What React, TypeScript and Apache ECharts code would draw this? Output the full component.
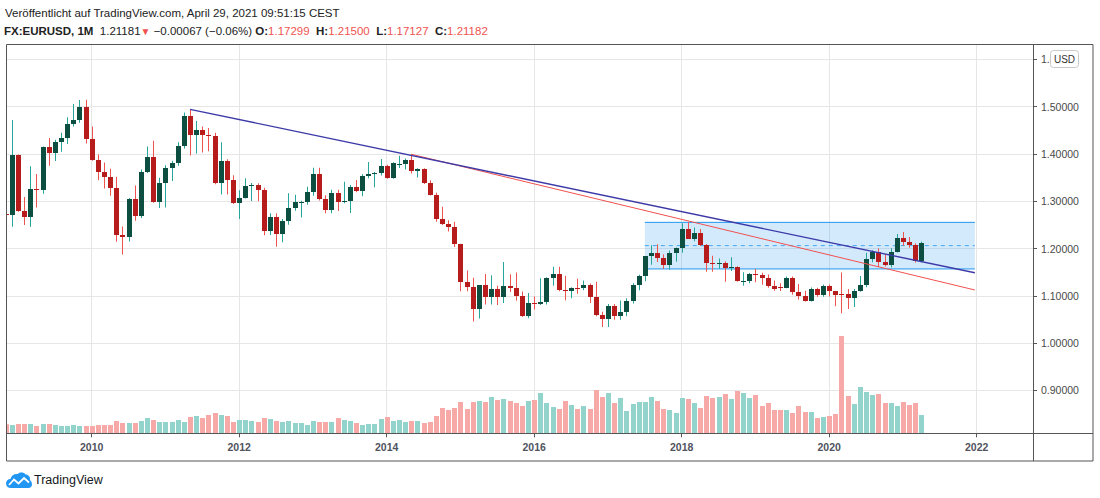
import { useEffect, useRef } from "react";
import * as echarts from "echarts";

// month index 0 = Nov 2008, one candle per month, [open, high, low, close]
const ohlc: number[][] = [
  // 2008
  [1.2737, 1.3083, 1.233, 1.272],
  [1.272, 1.472, 1.246, 1.397],
  // 2009
  [1.397, 1.399, 1.278, 1.28],
  [1.28, 1.309, 1.25, 1.266],
  [1.266, 1.374, 1.246, 1.325],
  [1.325, 1.358, 1.287, 1.323],
  [1.323, 1.416, 1.316, 1.415],
  [1.415, 1.434, 1.375, 1.403],
  [1.403, 1.43, 1.385, 1.4255],
  [1.4255, 1.445, 1.405, 1.434],
  [1.434, 1.4775, 1.421, 1.4635],
  [1.4635, 1.506, 1.458, 1.472],
  [1.472, 1.514, 1.466, 1.5],
  [1.5, 1.5145, 1.422, 1.4325],
  // 2010
  [1.4325, 1.458, 1.386, 1.3865],
  [1.3865, 1.399, 1.3445, 1.3625],
  [1.3625, 1.382, 1.327, 1.3505],
  [1.3505, 1.369, 1.3115, 1.329],
  [1.329, 1.352, 1.2145, 1.2295],
  [1.2295, 1.247, 1.1875, 1.2235],
  [1.2235, 1.307, 1.215, 1.305],
  [1.305, 1.3335, 1.259, 1.269],
  [1.269, 1.367, 1.2645, 1.3625],
  [1.3625, 1.416, 1.36, 1.393],
  [1.393, 1.428, 1.297, 1.2985],
  [1.2985, 1.35, 1.286, 1.338],
  // 2011
  [1.338, 1.376, 1.287, 1.3695],
  [1.3695, 1.386, 1.343, 1.38],
  [1.38, 1.425, 1.375, 1.4165],
  [1.4165, 1.488, 1.4115, 1.4805],
  [1.4805, 1.494, 1.397, 1.4395],
  [1.4395, 1.47, 1.401, 1.45],
  [1.45, 1.458, 1.403, 1.4395],
  [1.4395, 1.455, 1.406, 1.439],
  [1.439, 1.445, 1.336, 1.3385],
  [1.3385, 1.425, 1.3145, 1.3855],
  [1.3855, 1.389, 1.3145, 1.3445],
  [1.3445, 1.355, 1.2945, 1.296],
  // 2012
  [1.296, 1.3235, 1.2625, 1.308],
  [1.308, 1.3485, 1.306, 1.332],
  [1.332, 1.3385, 1.3005, 1.3345],
  [1.3345, 1.338, 1.3, 1.324],
  [1.324, 1.3285, 1.2285, 1.2365],
  [1.2365, 1.275, 1.229, 1.2665],
  [1.2665, 1.2745, 1.204, 1.2305],
  [1.2305, 1.2625, 1.2135, 1.2575],
  [1.2575, 1.317, 1.2505, 1.286],
  [1.286, 1.314, 1.28, 1.298],
  [1.298, 1.301, 1.266, 1.2985],
  [1.2985, 1.331, 1.2925, 1.3195],
  // 2013
  [1.3195, 1.371, 1.3115, 1.358],
  [1.358, 1.371, 1.3015, 1.3055],
  [1.3055, 1.313, 1.2745, 1.2815],
  [1.2815, 1.3245, 1.2745, 1.317],
  [1.317, 1.3245, 1.2795, 1.2995],
  [1.2995, 1.3415, 1.296, 1.301],
  [1.301, 1.3345, 1.2755, 1.33],
  [1.33, 1.345, 1.319, 1.322],
  [1.322, 1.357, 1.3105, 1.3525],
  [1.3525, 1.383, 1.3485, 1.3585],
  [1.3585, 1.362, 1.3295, 1.359],
  [1.359, 1.3895, 1.3545, 1.3745],
  // 2014
  [1.3745, 1.3775, 1.3475, 1.3485],
  [1.3485, 1.3825, 1.3475, 1.3805],
  [1.377, 1.3965, 1.3705, 1.378],
  [1.378, 1.3905, 1.3675, 1.387],
  [1.387, 1.3995, 1.359, 1.3635],
  [1.3635, 1.37, 1.3505, 1.369],
  [1.369, 1.37, 1.3365, 1.3385],
  [1.3385, 1.3445, 1.3125, 1.313],
  [1.313, 1.318, 1.257, 1.263],
  [1.263, 1.2885, 1.25, 1.2525],
  [1.2525, 1.26, 1.236, 1.245],
  [1.245, 1.257, 1.2035, 1.21],
  // 2015
  [1.21, 1.2105, 1.11, 1.129],
  [1.129, 1.1535, 1.11, 1.1195],
  [1.1195, 1.1385, 1.046, 1.073],
  [1.073, 1.1225, 1.052, 1.122],
  [1.122, 1.1465, 1.082, 1.0985],
  [1.0985, 1.1435, 1.082, 1.1145],
  [1.1145, 1.1215, 1.081, 1.0985],
  [1.0985, 1.1715, 1.085, 1.121],
  [1.121, 1.146, 1.1085, 1.1175],
  [1.1175, 1.1495, 1.0895, 1.1005],
  [1.1005, 1.1095, 1.0555, 1.0565],
  [1.0565, 1.106, 1.0525, 1.086],
  // 2016
  [1.086, 1.0985, 1.071, 1.083],
  [1.083, 1.1375, 1.081, 1.087],
  [1.087, 1.1395, 1.082, 1.138],
  [1.138, 1.1615, 1.1215, 1.1455],
  [1.1455, 1.1615, 1.11, 1.113],
  [1.113, 1.1425, 1.091, 1.1105],
  [1.1105, 1.1185, 1.095, 1.1175],
  [1.1175, 1.1365, 1.1045, 1.116],
  [1.116, 1.1325, 1.112, 1.124],
  [1.124, 1.126, 1.085, 1.098],
  [1.098, 1.13, 1.057, 1.059],
  [1.059, 1.0665, 1.034, 1.052],
  // 2017
  [1.052, 1.083, 1.034, 1.0795],
  [1.0795, 1.083, 1.0495, 1.0575],
  [1.0575, 1.0905, 1.0495, 1.065],
  [1.065, 1.095, 1.057, 1.0895],
  [1.0895, 1.127, 1.084, 1.124],
  [1.124, 1.1445, 1.112, 1.1425],
  [1.1425, 1.1845, 1.131, 1.184],
  [1.184, 1.207, 1.166, 1.1905],
  [1.1905, 1.209, 1.1715, 1.181],
  [1.181, 1.188, 1.1575, 1.1645],
  [1.1645, 1.196, 1.1555, 1.19],
  [1.19, 1.2025, 1.172, 1.2005],
  // 2018
  [1.2005, 1.2535, 1.1915, 1.2415],
  [1.2415, 1.2555, 1.2205, 1.2195],
  [1.2195, 1.2445, 1.2155, 1.2325],
  [1.2325, 1.2415, 1.2055, 1.208],
  [1.208, 1.2095, 1.151, 1.1695],
  [1.1695, 1.185, 1.151, 1.1685],
  [1.1685, 1.179, 1.1575, 1.169],
  [1.169, 1.1735, 1.13, 1.16],
  [1.16, 1.1815, 1.1525, 1.1605],
  [1.1605, 1.1625, 1.13, 1.131],
  [1.131, 1.15, 1.1215, 1.1315],
  [1.1315, 1.1485, 1.127, 1.1465],
  // 2019
  [1.1465, 1.157, 1.129, 1.1445],
  [1.1445, 1.149, 1.1235, 1.137],
  [1.137, 1.145, 1.1175, 1.1215],
  [1.1215, 1.1325, 1.111, 1.1155],
  [1.119, 1.1265, 1.1105, 1.1165],
  [1.1165, 1.141, 1.116, 1.137],
  [1.137, 1.141, 1.1025, 1.1075],
  [1.1075, 1.125, 1.0925, 1.099],
  [1.099, 1.111, 1.088, 1.09],
  [1.09, 1.118, 1.088, 1.115],
  [1.115, 1.1175, 1.098, 1.1015],
  [1.1015, 1.124, 1.098, 1.1215],
  // 2020
  [1.1215, 1.124, 1.099, 1.1095],
  [1.1095, 1.11, 1.078, 1.1025],
  [1.1035, 1.1495, 1.0635, 1.103],
  [1.103, 1.1145, 1.0725, 1.0955],
  [1.0955, 1.1145, 1.0765, 1.11],
  [1.11, 1.142, 1.109, 1.1235],
  [1.1235, 1.191, 1.1185, 1.178],
  [1.178, 1.1965, 1.171, 1.1935],
  [1.1935, 1.201, 1.161, 1.172],
  [1.172, 1.188, 1.162, 1.1645],
  [1.1645, 1.2005, 1.16, 1.1925],
  [1.1925, 1.231, 1.192, 1.2215],
  // 2021
  [1.2215, 1.235, 1.206, 1.2135],
  [1.2135, 1.2245, 1.202, 1.2075],
  [1.2075, 1.2115, 1.1705, 1.173],
  [1.17299, 1.215, 1.17127, 1.21182],
];

const volume: number[] = [
  27, 25,
  28, 28, 28, 22, 28, 28, 25, 22, 22, 25, 22, 22,
  22, 25, 25, 25, 37, 31, 31, 31, 37, 46, 40, 34,
  34, 34, 40, 34, 49, 52, 46, 55, 61, 55, 52, 34,
  40, 40, 37, 34, 46, 43, 37, 34, 37, 31, 31, 25,
  37, 34, 34, 34, 46, 40, 37, 31, 25, 28, 28, 43,
  49, 37, 40, 34, 37, 37, 31, 34, 52, 76, 70, 76,
  94, 73, 94, 97, 94, 109, 100, 103, 97, 91, 82, 97,
  100, 121, 91, 79, 73, 97, 85, 73, 82, 73, 130, 109,
  121, 91, 106, 67, 88, 94, 94, 109, 97, 73, 70, 61,
  106, 103, 91, 76, 112, 106, 109, 118, 103, 127, 121, 106,
  115, 82, 91, 70, 70, 70, 61, 82, 64, 64, 46, 49,
  52, 58, 292, 112, 88, 139, 124, 115, 118, 91, 91, 82,
  94, 85, 91, 55,
];

// January of each labelled year, as month index
const yearTicks = [14, 38, 62, 86, 110, 134, 158];
const priceTicks = [0.9, 1.0, 1.1, 1.2, 1.3, 1.4, 1.5, 1.6];

const blueTrend = [[30, 1.4945], [157.7, 1.149]];
const redTrend = [[66, 1.3995], [157.7, 1.1125]];
const channelX = [104, 157.7];
const channelTop = 1.2555;
const channelMid = 1.2063;
const channelBottom = 1.157;

const lastPrice = "1.21181";
const lastChange = "−0.00067 (−0.06%)";

const BODY_UP = "#0c4e3f";
const BODY_DOWN = "#b71c1c";
const WICK_UP = "#26a69a";
const WICK_DOWN = "#ef5350";
const VOL_UP = "#92d3cc";
const VOL_DOWN = "#f7a9a7";
const GRID = "#e6e6e6";
const FRAME = "#555555";
const FONT = "'Liberation Sans', Arial, sans-serif";

const cloud =
  "M5 16 C2 16 0 14 0 11.5 C0 9 2 7 4.5 7 C5.5 3.5 8.5 1.5 12 2 C14 0 18 0 20 2.5 C23 2.5 25 5 24.5 8 C26 9 26.5 11 26.5 12.5 C26.5 14.5 25 16 23 16 Z";
echarts.graphic.registerShape("tvCloud", echarts.graphic.extendPath(cloud, {}) as any);

export default function App() {
  const ref = useRef<HTMLDivElement | null>(null);

  useEffect(() => {
    const el = ref.current;
    if (!el) return;
    const chart = echarts.init(el, null, { renderer: "svg" });
    const last = ohlc[ohlc.length - 1];
    const hs = 11.5;

    chart.setOption({
      animation: false,
      textStyle: { fontFamily: FONT },
      grid: { left: 7, right: 67, top: 44, bottom: 64.7, outerBoundsMode: "none" },
      xAxis: {
        type: "value",
        min: 0.219,
        max: 167.16,
        axisLine: { show: false, onZero: false },
        axisTick: { show: true, length: 4, customValues: yearTicks, lineStyle: { color: FRAME } },
        axisLabel: {
          customValues: yearTicks,
          formatter: (v: number) => String(2009 + Math.round((v - 2) / 12)),
          margin: 8,
          color: "#50535e",
          fontSize: 10.5,
          fontWeight: "bold",
        },
        splitLine: { show: true, lineStyle: { color: GRID } },
      },
      yAxis: [
        {
          type: "value",
          position: "right",
          min: 0.8095,
          max: 1.6326,
          axisLine: { show: false },
          axisTick: { show: true, length: 4, customValues: priceTicks, lineStyle: { color: FRAME } },
          axisLabel: {
            customValues: priceTicks,
            formatter: (v: number) => v.toFixed(5),
            margin: 8,
            color: "#4a4a4a",
            fontSize: 10.5,
          },
          splitLine: { show: true, lineStyle: { color: GRID } },
        },
        { type: "value", min: 0, max: 1168, show: false },
      ],
      series: [
        {
          type: "custom",
          yAxisIndex: 1,
          clip: true,
          z: 1,
          data: volume.map((v, i) => [i, v, ohlc[i][3] >= ohlc[i][0] ? 1 : 0]),
          encode: { x: 0, y: 1 },
          renderItem: (_p: any, api: any) => {
            const i = api.value(0);
            const base = api.coord([i, 0]);
            const top = api.coord([i, api.value(1)]);
            const cx = Math.round(base[0]);
            return {
              type: "rect",
              shape: { x: cx - 2, y: top[1], width: 5, height: base[1] - top[1] },
              style: { fill: api.value(2) ? VOL_UP : VOL_DOWN },
            };
          },
        },
        {
          type: "line",
          data: [[channelX[0], channelTop], [channelX[1], channelTop]],
          symbol: "none",
          z: 2,
          lineStyle: { color: "#2196f3", width: 1 },
          markArea: {
            silent: true,
            itemStyle: { color: "rgba(33,150,243,0.2)" },
            data: [[{ xAxis: channelX[0], yAxis: channelTop }, { xAxis: channelX[1], yAxis: channelBottom }]],
          },
        },
        {
          type: "line",
          data: [[channelX[0], channelBottom], [channelX[1], channelBottom]],
          symbol: "none",
          z: 2,
          lineStyle: { color: "#2196f3", width: 1 },
        },
        {
          type: "line",
          data: [[channelX[0], channelMid], [channelX[1], channelMid]],
          symbol: "none",
          z: 2,
          lineStyle: { color: "#42a5f5", width: 1, type: [4, 4] },
        },
        {
          type: "custom",
          clip: true,
          z: 3,
          data: ohlc.map((d, i) => [i, d[0], d[1], d[2], d[3]]),
          encode: { x: 0, y: [1, 2, 3, 4] },
          renderItem: (_p: any, api: any) => {
            const i = api.value(0);
            const open = api.value(1);
            const high = api.value(2);
            const low = api.value(3);
            const close = api.value(4);
            const up = close >= open;
            const pOpen = api.coord([i, open]);
            const yClose = api.coord([i, close])[1];
            const yHigh = api.coord([i, high])[1];
            const yLow = api.coord([i, low])[1];
            const cx = Math.round(pOpen[0]);
            const top = Math.round(Math.min(pOpen[1], yClose));
            const bottom = Math.round(Math.max(pOpen[1], yClose));
            return {
              type: "group",
              children: [
                {
                  type: "rect",
                  shape: { x: cx, y: yHigh, width: 1, height: yLow - yHigh },
                  style: { fill: up ? WICK_UP : WICK_DOWN },
                },
                {
                  type: "rect",
                  shape: { x: cx - 2, y: top, width: 5, height: Math.max(bottom - top, 1) },
                  style: { fill: up ? BODY_UP : BODY_DOWN },
                },
              ],
            };
          },
        },
        {
          type: "line",
          data: redTrend,
          symbol: "none",
          z: 4,
          lineStyle: { color: "#f0514e", width: 1 },
        },
        {
          type: "line",
          data: blueTrend,
          symbol: "none",
          z: 5,
          lineStyle: { color: "#3d3aa8", width: 1.4 },
        },
      ],
      graphic: [
        {
          type: "rect",
          silent: true,
          z: 100,
          shape: { x: 6.5, y: 44.5, width: 1086.5, height: 416.5 },
          style: { fill: "none", stroke: FRAME, lineWidth: 1 },
        },
        {
          type: "line",
          silent: true,
          z: 100,
          shape: { x1: 1033.5, y1: 44, x2: 1033.5, y2: 461 },
          style: { stroke: FRAME, lineWidth: 1 },
        },
        {
          type: "line",
          silent: true,
          z: 100,
          shape: { x1: 7, y1: 433.5, x2: 1093, y2: 433.5 },
          style: { stroke: FRAME, lineWidth: 1 },
        },
        {
          type: "rect",
          silent: true,
          z: 101,
          shape: { x: 1050.5, y: 50.5, width: 28, height: 17, r: 3 },
          style: { fill: "#ffffff", stroke: "#c9c9c9", lineWidth: 1 },
        },
        {
          type: "text",
          silent: true,
          z: 102,
          x: 1064.5,
          y: 59,
          style: {
            text: "USD",
            fill: "#333333",
            fontSize: 10,
            fontFamily: FONT,
            align: "center",
            verticalAlign: "middle",
          },
        },
        {
          type: "text",
          silent: true,
          z: 102,
          x: 5,
          y: 13,
          style: {
            text: "Veröffentlicht auf TradingView.com, April 29, 2021 09:51:15 CEST",
            fill: "#222222",
            fontSize: hs,
            fontFamily: FONT,
            verticalAlign: "middle",
          },
        },
        {
          type: "text",
          silent: true,
          z: 102,
          x: 4,
          y: 31,
          style: {
            text:
              `{b|FX:EURUSD, 1M}  {n|${lastPrice}}{r|▼} {n|${lastChange}} ` +
              `{b|O:}{v|${last[0].toFixed(5)}}  {b|H:}{v|${last[1].toFixed(5)}}  ` +
              `{b|L:}{v|${last[2].toFixed(5)}}  {b|C:}{v|${last[3].toFixed(5)}}`,
            fontSize: hs,
            fontFamily: FONT,
            fill: "#222222",
            verticalAlign: "middle",
            rich: {
              b: { fontWeight: "bold", fontSize: hs, fontFamily: FONT, fill: "#222222" },
              n: { fontSize: hs, fontFamily: FONT, fill: "#222222" },
              r: { fontSize: 10, fontFamily: FONT, fill: "#ef5350" },
              v: { fontSize: hs, fontFamily: FONT, fill: "#ef5350" },
            },
          },
        },
        {
          type: "tvCloud",
          silent: true,
          z: 102,
          x: 6,
          y: 472,
          scaleX: 0.98,
          scaleY: 1,
          style: { fill: "#2196f3" },
        },
        {
          type: "polyline",
          silent: true,
          z: 103,
          shape: { points: [[9, 485], [14, 479.5], [18.5, 483.5], [24, 478], [29, 482.5]] },
          style: { stroke: "#ffffff", lineWidth: 1.8, fill: "none" },
        },
        {
          type: "text",
          silent: true,
          z: 102,
          x: 34,
          y: 480,
          style: {
            text: "TradingView",
            fill: "#131722",
            fontSize: 12.5,
            fontFamily: FONT,
            verticalAlign: "middle",
          },
        },
      ],
    });

    return () => chart.dispose();
  }, []);

  return (
    <div
      ref={ref}
      style={{ position: "fixed", left: 0, top: 0, width: 1100, height: 498, background: "#ffffff" }}
    />
  );
}
